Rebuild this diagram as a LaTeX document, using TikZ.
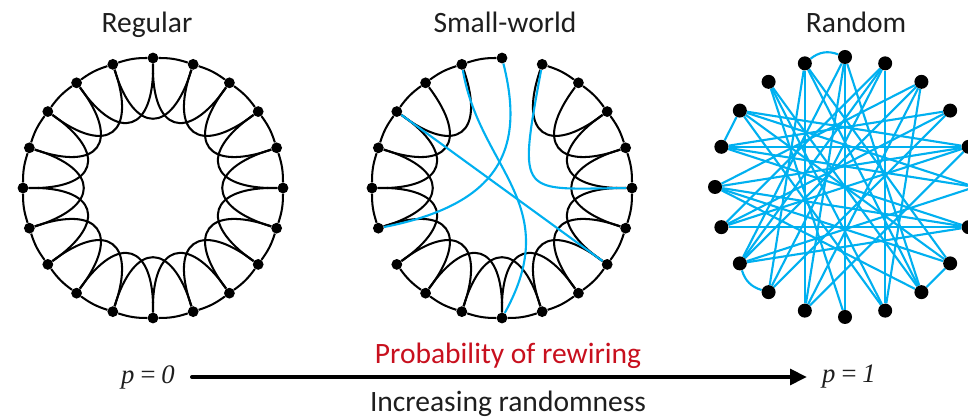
\documentclass[tikz,border=0pt]{standalone}
\usepackage{fontspec}
\setmainfont{Carlito}
\newfontfamily\pfont{Liberation Serif}
\usetikzlibrary{arrows.meta,backgrounds}
\definecolor{wsblue}{RGB}{0,176,240}
\definecolor{wsred}{RGB}{200,16,30}
\definecolor{wsink}{RGB}{30,30,30}

\begin{document}
\begin{tikzpicture}[x=0.025cm,y=0.025cm,line cap=round,line join=round,
  font=\fontsize{21}{25}\selectfont,text=wsink,
  dot/.style={circle,fill=black,inner sep=0pt,minimum size=0.27cm},
  bigdot/.style={circle,fill=black,inner sep=0pt,minimum size=0.35cm},
  ring/.style={black,line width=1.45pt},
  rewired/.style={wsblue,line width=1.5pt},
  plabel/.style={font=\pfont\fontsize{19}{22}\selectfont\itshape,inner ysep=0pt}]
\path[use as bounding box] (0,0) rectangle (968,419);
\begin{scope}[on background layer]
  \fill[white] (0,0) rectangle (968,419);
\end{scope}

% titles
\node[anchor=base] (tReg) at (147,386) {Regular};
\node[anchor=base] (tSw) at (505,386) {Small-world};
\node[anchor=base] (tRnd) at (856,386) {Random};

% Regular: ring lattice, each node tied to its two nearest neighbours on each side
\begin{scope}[shift={(153,231)}]
  \foreach \k in {0,...,19} \node[dot] (reg\k) at (18*\k:130) {};
  \begin{scope}[on background layer]
    \foreach \k in {0,...,19} {
      \pgfmathtruncatemacro\n{mod(\k+1,20)}
      \pgfmathtruncatemacro\m{mod(\k+2,20)}
      \draw[ring] (reg\k) to[bend right=9] (reg\n);
      \draw[ring] (reg\k) .. controls +(18*\k+181:74) and +(18*\m+179:74) .. (reg\m);
    }
  \end{scope}
\end{scope}

% Small-world: a few links rewired
\begin{scope}[shift={(502,231)}]
  \foreach \k in {0,...,19} \node[dot] (sw\k) at (18*\k:130) {};
  \begin{scope}[on background layer]
    \foreach \k in {0,1,2,3,5,6,7,8,9,10,12,13,14,15,16,17,18,19} {
      \pgfmathtruncatemacro\n{mod(\k+1,20)}
      \draw[ring] (sw\k) to[bend right=9] (sw\n);
    }
    \foreach \k in {0,1,2,6,7,8,9,10,11,12,13,14,15,16,17,18,19} {
      \pgfmathtruncatemacro\m{mod(\k+2,20)}
      \draw[ring] (sw\k) .. controls +(18*\k+181:74) and +(18*\m+179:74) .. (sw\m);
    }
    % rewired links
    \draw[rewired] (sw4) .. controls +(-25,-135) and +(-112,-1) .. (sw0);
    \draw[rewired] (sw6) .. controls +(18,-105) and +(63,114) .. (sw15);
    \draw[rewired] (sw5) .. controls +(23,-91) and +(122,24) .. (sw11);
    \draw[rewired] (sw8) -- (sw18);
  \end{scope}
\end{scope}

% Random: every link rewired
\begin{scope}[shift={(845,232)}]
  \foreach \k in {0,...,19} \node[bigdot] (rnd\k) at (18*\k:130) {};
  \begin{scope}[on background layer]
    \foreach \a/\b in {0/9,0/12,1/11,1/8,2/13,2/11,3/12,3/14,4/13,4/16,
        5/15,5/12,6/14,6/17,7/17,7/15,8/18,8/16,9/19,9/1,
        10/1,10/18,11/19,12/4,13/6,14/5,16/7,17/5,18/6,19/10,
        0/8,9/2,12/19,14/1,16/3,17/10,3/10,4/11,8/9,17/18}
      \draw[rewired] (rnd\a) -- (rnd\b);
    \draw[rewired] (rnd6) to[bend left=30] (rnd5);
    \draw[rewired] (rnd12) to[bend right=28] (rnd13);
  \end{scope}
\end{scope}

% rewiring axis
\node[plabel,anchor=east,inner xsep=12pt] (p0) at (192,42) {p\,=\,0};
\node[plabel,anchor=west,inner xsep=10.5pt] (p1) at (807,42) {p\,=\,1};
\draw[black,line width=2.8pt,-{Triangle[length=12pt,width=11pt]}] (p0) -- (p1);
\node[anchor=base,text=wsred] (prob) at (508,55) {Probability of rewiring};
\node[anchor=base] (incr) at (508,7) {Increasing randomness};
\end{tikzpicture}
\end{document}
